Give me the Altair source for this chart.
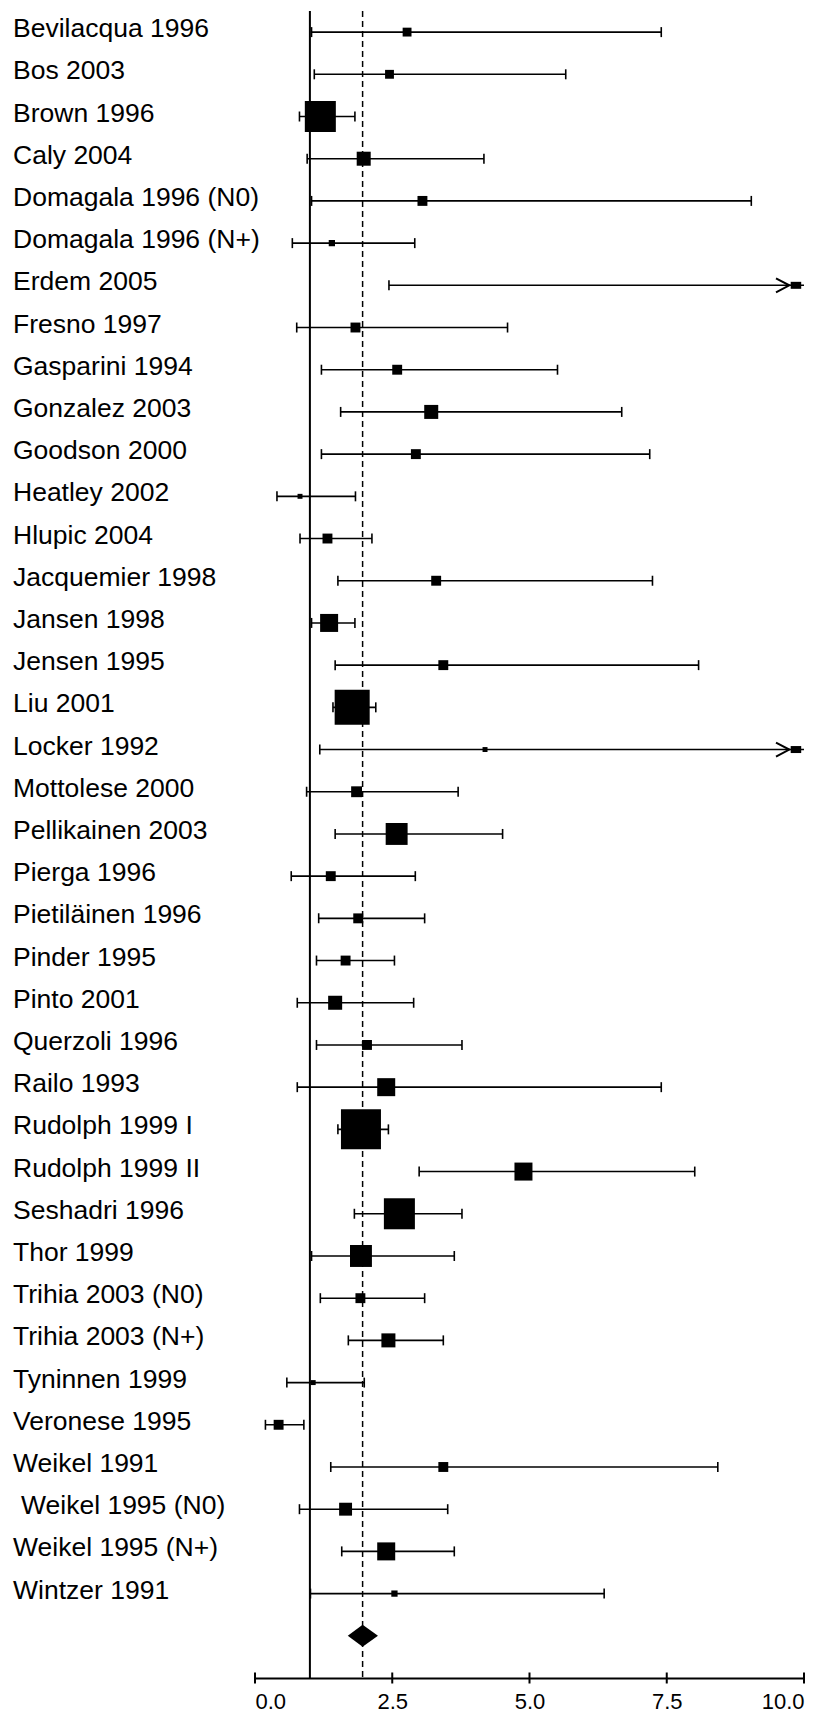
import altair as alt
import pandas as pd

studies = ["Bevilacqua 1996", "Bos 2003", "Brown 1996", "Caly 2004", "Domagala 1996 (N0)",
           "Domagala 1996 (N+)", "Erdem 2005", "Fresno 1997", "Gasparini 1994", "Gonzalez 2003",
           "Goodson 2000", "Heatley 2002", "Hlupic 2004", "Jacquemier 1998", "Jansen 1998",
           "Jensen 1995", "Liu 2001", "Locker 1992", "Mottolese 2000", "Pellikainen 2003",
           "Pierga 1996", "Pietiläinen 1996", "Pinder 1995", "Pinto 2001", "Querzoli 1996",
           "Railo 1993", "Rudolph 1999 I", "Rudolph 1999 II", "Seshadri 1996", "Thor 1999",
           "Trihia 2003 (N0)", "Trihia 2003 (N+)", "Tyninnen 1999", "Veronese 1995", "Weikel 1991",
           " Weikel 1995 (N0)", "Weikel 1995 (N+)", "Wintzer 1991"]
estimate = [2.77, 2.45, 1.19, 1.98, 3.05, 1.40, 10.8, 1.83, 2.59, 3.21,
            2.93, 0.82, 1.32, 3.30, 1.35, 3.43, 1.77, 4.19, 1.85, 2.58,
            1.38, 1.88, 1.65, 1.46, 2.04, 2.39, 1.93, 4.89, 2.63, 1.93,
            1.92, 2.43, 1.06, 0.43, 3.43, 1.65, 2.39, 2.54]
lower = [1.03, 1.08, 0.81, 0.95, 1.03, 0.68, 2.44, 0.76, 1.21, 1.56,
         1.21, 0.40, 0.82, 1.51, 1.03, 1.46, 1.42, 1.18, 0.94, 1.46,
         0.66, 1.16, 1.12, 0.77, 1.12, 0.77, 1.51, 2.99, 1.81, 1.03,
         1.19, 1.70, 0.58, 0.19, 1.38, 0.81, 1.58, 1.01]
upper = [7.40, 5.66, 1.82, 4.17, 9.04, 2.91, 25.0, 4.60, 5.51, 6.68,
         7.19, 1.83, 2.13, 7.24, 1.82, 8.08, 2.20, 15.0, 3.70, 4.51,
         2.92, 3.09, 2.54, 2.89, 3.77, 7.40, 2.43, 8.01, 3.77, 3.63,
         3.09, 3.43, 1.99, 0.89, 8.43, 3.51, 3.63, 6.36]
weight = [0.8, 0.8, 9.8, 2.0, 1.0, 0.4, 0.25, 1.0, 1.0, 2.0,
          1.0, 0.25, 1.0, 1.0, 3.3, 1.0, 12.5, 0.25, 1.2, 4.9,
          1.0, 1.0, 1.0, 2.0, 1.0, 3.3, 16.3, 3.3, 9.8, 4.9,
          1.0, 2.0, 0.25, 1.0, 1.0, 1.7, 3.3, 0.4]

pooled_estimate = 1.96
pooled_lower = 1.69
pooled_upper = 2.24
null_value = 1.0
tick_values = [0.0, 2.5, 5.0, 7.5, 10.0]
x_max = 10.0

n = len(studies)
df = pd.DataFrame({
    "study": studies,
    "row": list(range(1, n + 1)),
    "estimate": estimate,
    "lower": lower,
    "upper": upper,
    "weight": weight,
})
df["hi_clip"] = df["upper"].clip(upper=x_max)
df["arrow"] = df["upper"] > x_max

pooled_row = n + 1
axis_row = n + 2
half_h = 0.26
diamond = pd.DataFrame({
    "x": [pooled_lower, pooled_estimate, pooled_upper],
    "y": [pooled_row, pooled_row - half_h, pooled_row],
    "y2": [pooled_row, pooled_row + half_h, pooled_row],
})
vlines = pd.DataFrame({"x": [null_value]})
dline = pd.DataFrame({"x": [pooled_estimate]})
ticks = pd.DataFrame({"x": tick_values, "row": [axis_row] * len(tick_values)})

xscale = alt.Scale(domain=[0, x_max], nice=False, zero=False)
yscale = alt.Scale(domain=[0.5, axis_row], reverse=True, nice=False, zero=False)
xaxis = alt.Axis(title=None, values=tick_values, format=".1f", ticks=False, grid=False,
                 domainColor="black", domainWidth=2, labelColor="black",
                 labelFont="Liberation Sans", labelFontSize=22, labelPadding=13)


def X(f):
    return alt.X(f, type="quantitative", scale=xscale, axis=xaxis)


def Y(f):
    return alt.Y(f, type="quantitative", scale=yscale, axis=None)


base = alt.Chart(df)

null_rule = alt.Chart(vlines).mark_rule(color="black", strokeWidth=2).encode(x=X("x"))
pooled_rule = alt.Chart(dline).mark_rule(color="black", strokeWidth=1.5,
                                         strokeDash=[6, 4]).encode(x=X("x"))

ci = base.mark_rule(color="black", strokeWidth=1.6).encode(
    x=X("lower"), x2=alt.X2("hi_clip"), y=Y("row"))
cap_lo = base.mark_tick(color="black", orient="vertical", size=10, thickness=1.6,
                        opacity=1).encode(x=X("lower"), y=Y("row"))
cap_hi = base.transform_filter("!datum.arrow").mark_tick(
    color="black", orient="vertical", size=10, thickness=1.6, opacity=1).encode(
    x=X("hi_clip"), y=Y("row"))

boxes = base.transform_filter(f"datum.estimate <= {x_max}").mark_square(
    color="black", filled=True, opacity=1).encode(
    x=X("estimate"), y=Y("row"),
    size=alt.Size("weight:Q", scale=alt.Scale(type="linear", domain=[0, 100], range=[0, 9819]),
                  legend=None))

chevron = base.transform_filter("datum.arrow").mark_point(
    shape="M-2,-0.5L-1.05,0L-2,0.5", size=784, filled=False, color="black",
    strokeWidth=2, opacity=1).encode(x=X("hi_clip"), y=Y("row"))
arrow_box = base.transform_filter("datum.arrow").mark_point(
    shape="M-0.95,-0.25L-0.2,-0.25L-0.2,0.25L-0.95,0.25Z", size=784, filled=True,
    color="black", opacity=1).encode(x=X("hi_clip"), y=Y("row"))

diamond_mark = alt.Chart(diamond).mark_area(color="black", orient="vertical", opacity=1).encode(
    x=X("x"), y=Y("y"), y2=alt.Y2("y2"))

text_style = dict(align="left", baseline="alphabetic", dy=5, font="Liberation Sans",
                  fontSize=26.5, color="black")
labels = base.transform_filter("substring(datum.study, 0, 1) != ' '").mark_text(
    **text_style).encode(x=alt.value(-242), y=Y("row"), text="study:N")
labels_indented = base.transform_filter("substring(datum.study, 0, 1) == ' '").transform_calculate(
    label="trim(datum.study)").mark_text(dx=8, **text_style).encode(
    x=alt.value(-242), y=Y("row"), text="label:N")

axis_ticks = alt.Chart(ticks).mark_tick(color="black", orient="vertical", size=11,
                                        thickness=2, opacity=1).encode(x=X("x"), y=Y("row"))

chart = alt.layer(null_rule, pooled_rule, ci, cap_lo, cap_hi, boxes, chevron, arrow_box,
                  diamond_mark, labels, labels_indented, axis_ticks).properties(
    width=549, height=1667,
    padding={"left": 5, "top": 2, "right": 0, "bottom": 0},
    background="white",
).configure_view(stroke=None)

chart.save("out.html", embed_options={"renderer": "svg", "actions": False})
